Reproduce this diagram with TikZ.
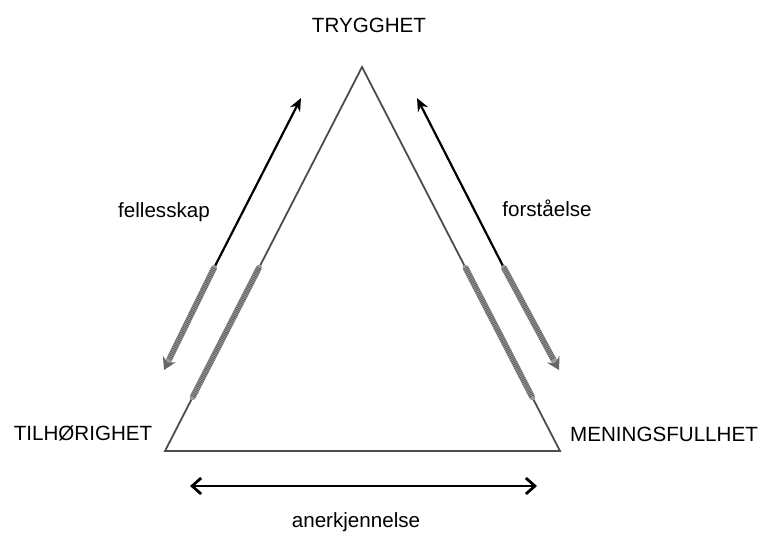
\documentclass[tikz,border=0pt]{standalone}
\usepackage{fontspec}
\setmainfont{Liberation Sans}
\usetikzlibrary{arrows.meta, calc}

\begin{document}
\begin{tikzpicture}[x=0.5pt, y=-0.5pt,
    lbl/.style={font=\fontsize{10.3}{12}\selectfont, inner sep=0pt, anchor=base},
    side/.style={draw=black!70, line width=0.9pt, line join=miter},
    arr/.style={line width=1.1pt, -{Stealth[length=6.5pt, width=5.5pt]}},
    grain/.style={draw=black!40, line width=3pt, line cap=round},
    grainhead/.style={grain, -{Stealth[length=6pt, width=7pt, color=black!60, fill=black!60]}},
    stipple/.style={draw=black!65, line width=2.8pt, dash pattern=on 0.35pt off 0.55pt}
  ]
  \useasboundingbox (0,0) rectangle (763,534);

  % corners of the triangle
  \coordinate (top) at (362,67);
  \coordinate (lft) at (165,451);
  \coordinate (rgt) at (560,451);
  \draw[side] (top) -- (lft) -- (rgt) -- cycle;

  % grainy parts on the sides
  \draw[grain] ($(top)!0.523!(lft)$) -- ($(top)!0.86!(lft)$);
  \draw[stipple] ($(top)!0.523!(lft)$) -- ($(top)!0.86!(lft)$);
  \draw[grain] ($(top)!0.523!(rgt)$) -- ($(top)!0.86!(rgt)$);
  \draw[stipple] ($(top)!0.523!(rgt)$) -- ($(top)!0.86!(rgt)$);

  % labels
  \node[lbl] (tryg)   at (369,33)  {TRYGGHET};
  \node[lbl] (tilh)   at (83,440)  {TILHØRIGHET};
  \node[lbl] (mening) at (664,441) {MENINGSFULLHET};
  \node[lbl] (felles) at (164,217) {fellesskap};
  \node[lbl] (forst)  at (547,216) {forståelse};
  \node[lbl] (anerk)  at (356,527) {anerkjennelse};

  % left arrow
  \coordinate (fe-top) at (301,98);
  \coordinate (fe-mid) at (214,268);
  \coordinate (fe-bot) at (164,370);
  \draw[arr] (fe-mid) -- (fe-top);
  \draw[grainhead] (fe-mid) -- (fe-bot);
  \draw[stipple, shorten >=6pt] (fe-mid) -- (fe-bot);

  % right arrow
  \coordinate (fo-top) at (417,98);
  \coordinate (fo-mid) at (504,268);
  \coordinate (fo-bot) at (559,370);
  \draw[arr] (fo-mid) -- (fo-top);
  \draw[grainhead] (fo-mid) -- (fo-bot);
  \draw[stipple, shorten >=6pt] (fo-mid) -- (fo-bot);

  % bottom arrow
  \coordinate (an-l) at (190,486);
  \coordinate (an-r) at (537,486);
  \draw[line width=1.4pt, {Straight Barb[length=4.5pt, width=8pt]}-{Straight Barb[length=4.5pt, width=8pt]}] (an-l) -- (an-r);
\end{tikzpicture}
\end{document}
